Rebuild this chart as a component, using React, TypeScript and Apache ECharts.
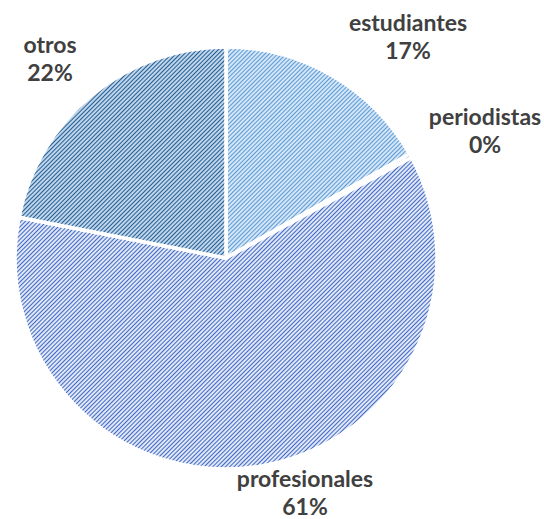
import React, { useEffect, useRef } from "react";
import * as echarts from "echarts";

const categories = ["estudiantes", "periodistas", "profesionales", "otros"];
const values = [16.8, 0.3, 61.0, 21.9];
const fillColors = ["#d3e5f6", "#d0dbf3", "#dfe6f6", "#bed5ec"];
const stripeColors = ["#5b9bd5", "#4472c4", "#4169c4", "#255e91"];
// label block centres (px) chosen to match the reference's label placement
const labelCentres: [number, number][] = [
  [408, 36],
  [485, 130],
  [305, 492],
  [50, 58],
];

export default function App() {
  const ref = useRef<HTMLDivElement>(null);
  useEffect(() => {
    const chart = echarts.init(ref.current!, null, { renderer: "svg" });
    const data = categories.map((name, i) => ({
      name,
      value: values[i],
      itemStyle: {
        color: fillColors[i],
        decal: {
          symbol: "rect",
          color: stripeColors[i],
          dashArrayX: [1, 0],
          dashArrayY: [0.9, 2],
          rotation: -Math.PI / 4,
          symbolSize: 1,
        },
      },
    }));
    chart.setOption({
      animation: false,
      backgroundColor: "#ffffff",
      series: [
        {
          type: "pie",
          center: [226, 258],
          radius: 211,
          startAngle: 90,
          clockwise: true,
          avoidLabelOverlap: false,
          itemStyle: { borderColor: "#ffffff", borderWidth: 3.5 },
          label: {
            show: true,
            position: "outside",
            formatter: (p: any) => `${p.name}\n${Math.round(p.percent)}%`,
            color: "#404040",
            fontFamily: "Lato",
            fontWeight: "bold",
            fontSize: 23,
            lineHeight: 28,
          },
          labelLine: { show: false },
          labelLayout: (p: any) => ({
            x: labelCentres[p.dataIndex][0],
            y: labelCentres[p.dataIndex][1],
            align: "center",
            verticalAlign: "middle",
          }),
          data,
        },
      ],
    });
    return () => chart.dispose();
  }, []);
  return (
    <div
      ref={ref}
      style={{ position: "fixed", left: 0, top: 0, width: 544, height: 519 }}
    />
  );
}
